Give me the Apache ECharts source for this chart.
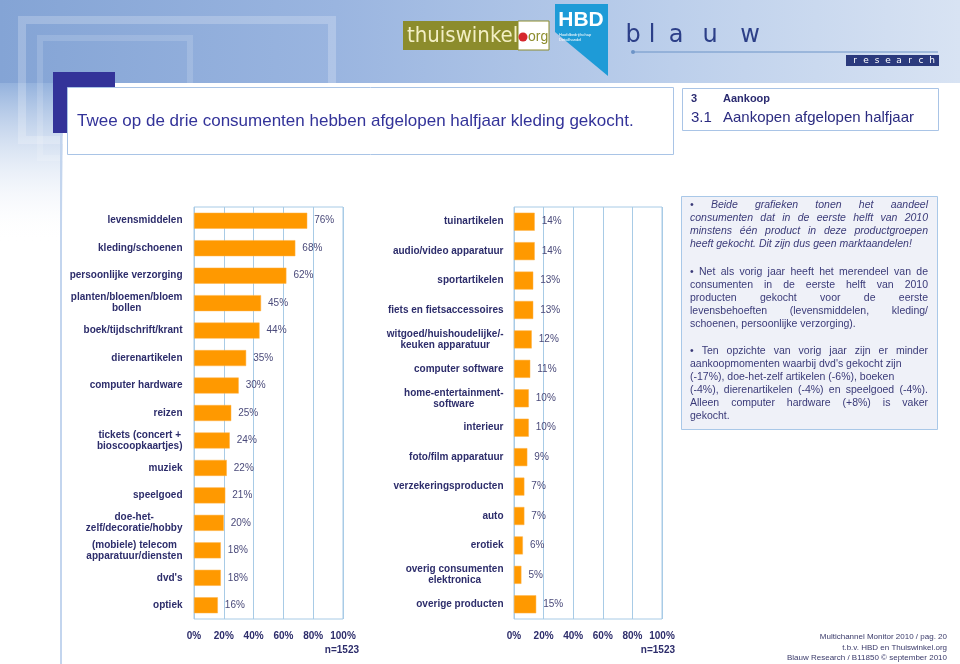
<!DOCTYPE html>
<html>
<head>
<meta charset="utf-8">
<script src="https://cdn.jsdelivr.net/npm/echarts@6/dist/echarts.min.js"></script>
<style>html,body{margin:0;padding:0;background:#fff}#c{width:960px;height:664px}</style>
</head>
<body>
<div id="c"></div>
<script>
// ---- data ----
const leftCategories = ['levensmiddelen','kleding/schoenen','persoonlijke verzorging','planten/bloemen/bloem\nbollen','boek/tijdschrift/krant','dierenartikelen','computer hardware','reizen','tickets (concert +\nbioscoopkaartjes)','muziek','speelgoed','doe-het-\nzelf/decoratie/hobby','(mobiele) telecom\napparatuur/diensten',"dvd's",'optiek'];
const leftValues = [76,68,62,45,44,35,30,25,24,22,21,20,18,18,16];
const rightCategories = ['tuinartikelen','audio/video apparatuur','sportartikelen','fiets en fietsaccessoires','witgoed/huishoudelijke/-\nkeuken apparatuur','computer software','home-entertainment-\nsoftware','interieur','foto/film apparatuur','verzekeringsproducten','auto','erotiek','overig consumenten\nelektronica','overige producten'];
const rightValues = [14,14,13,13,12,11,10,10,9,7,7,6,5,15];
const xTicks = [0,20,40,60,80,100];
const sampleLabel = 'n=1523';
const titleText = 'Twee op de drie consumenten hebben afgelopen halfjaar kleding gekocht.';
const noteParagraphs = [
  {italic:true, lines:[['• Beide grafieken tonen het aandeel',1],['consumenten dat in de eerste helft van 2010',1],['minstens één product in deze productgroepen',1],['heeft gekocht. Dit zijn dus geen marktaandelen!',0]]},
  {italic:false, lines:[['• Net als vorig jaar heeft het merendeel van de',1],['consumenten in de eerste helft van 2010',1],['producten gekocht voor de eerste',1],['levensbehoeften (levensmiddelen, kleding/',1],['schoenen, persoonlijke verzorging).',0]]},
  {italic:false, lines:[['• Ten opzichte van vorig jaar zijn er minder',1],["aankoopmomenten waarbij dvd's gekocht zijn",0],['(-17%), doe-het-zelf artikelen (-6%), boeken',0],['(-4%), dierenartikelen (-4%) en speelgoed (-4%).',1],['Alleen computer hardware (+8%) is vaker',1],['gekocht.',0]]}
];
const footerLines = ['Multichannel Monitor 2010 / pag. 20','t.b.v. HBD en Thuiswinkel.org','Blauw Research / B11850 © september 2010'];

// ---- styling ----
const FF = '"Liberation Sans", Arial, sans-serif';
const NAVY = '#2d2d6b';
const VAL = '#4a4a7a';
const GRID = '#a8cbe6';
const ORANGE = '#ff9900';

const cv = document.createElement('canvas').getContext('2d');
function tw(t, font){ cv.font = font; return cv.measureText(t).width; }

function buildLabel(cats, key){
  const rich = {};
  const labFont = 'bold 10px ' + FF;
  cats.forEach((c,i)=>{
    const ls = c.split('\n');
    const w = Math.max(...ls.map(l=>tw(l,labFont))) + 1;
    rich[key+i] = {width:w, align:'center', fontWeight:'bold', fontSize:10, fontFamily:FF, color:NAVY, lineHeight:11};
  });
  return {
    rich,
    formatter: (v, i)=>{
      const idx = cats.indexOf(v);
      return v.split('\n').map(l=>'{'+key+idx+'|'+l+'}').join('\n');
    }
  };
}
const lLab = buildLabel(leftCategories,'l');
const rLab = buildLabel(rightCategories,'r');

function xAxisCfg(gi){
  return {
    gridIndex: gi, type:'value', min:0, max:100, interval:20,
    axisLine:{show:false}, axisTick:{show:false},
    splitLine:{show:true, lineStyle:{color:GRID, width:1}},
    axisLabel:{formatter:'{value}%', color:NAVY, fontWeight:'bold', fontSize:10, fontFamily:FF, margin:12,
      customValues: xTicks}
  };
}
function yAxisCfg(gi, cats, lab, margin){
  return {
    gridIndex: gi, type:'category', data:cats, inverse:true,
    axisLine:{show:false}, axisTick:{show:false}, splitLine:{show:false},
    axisLabel:{margin:margin, align:'right', formatter:lab.formatter, rich:lab.rich, color:NAVY, fontWeight:'bold', fontSize:10, fontFamily:FF, interval:0}
  };
}
function barSeries(gi, vals, bw){
  return {
    type:'bar', xAxisIndex:gi, yAxisIndex:gi, data:vals, barWidth:bw,
    itemStyle:{color:ORANGE, borderColor:'#ffb347', borderWidth:0.5},
    label:{show:true, position:'right', distance:7, formatter:'{c}%', color:VAL, fontSize:10, fontFamily:FF},
    silent:true, animation:false
  };
}

// ---- decorative graphics ----
const g = [];
// header background
g.push({type:'rect', z:-20, shape:{x:0,y:0,width:960,height:83},
  style:{fill:new echarts.graphic.LinearGradient(0,0,1,0,[{offset:0,color:'#84a4d5'},{offset:0.35,color:'#9ab5e0'},{offset:0.7,color:'#bccfeb'},{offset:1,color:'#d8e3f3'}])}});
g.push({type:'rect', z:-19, shape:{x:0,y:83,width:63,height:160},
  style:{fill:new echarts.graphic.LinearGradient(0,0,0,1,[{offset:0,color:'#94b2dd'},{offset:1,color:'rgba(255,255,255,0)'}])}});
g.push({type:'rect', z:-18, shape:{x:22,y:20,width:310,height:120}, style:{fill:'none', stroke:'rgba(255,255,255,0.22)', lineWidth:8}});
g.push({type:'rect', z:-18, shape:{x:40,y:38,width:150,height:120}, style:{fill:'none', stroke:'rgba(255,255,255,0.15)', lineWidth:6}});
g.push({type:'line', z:-17, shape:{x1:61,y1:83,x2:61,y2:664}, style:{stroke:'#c3d5ee', lineWidth:2}});
// thuiswinkel logo
g.push({type:'rect', z:-10, shape:{x:403,y:21,width:117,height:29}, style:{fill:'#8c8c2c'}});
g.push({type:'text', z:-9, style:{x:407,y:36,text:'thuiswinkel',font:'22px "DejaVu Sans Condensed", '+FF,fill:'#f3efc4',textVerticalAlign:'middle',verticalAlign:'middle'}});
g.push({type:'rect', z:-10, shape:{x:518,y:21,width:31,height:29}, style:{fill:'#ffffff', stroke:'#8c8c2c', lineWidth:1}});
g.push({type:'circle', z:-9, shape:{cx:523,cy:37,r:4.5}, style:{fill:'#d6262c'}});
g.push({type:'text', z:-9, style:{x:528,y:37,text:'org',font:'14px '+FF,fill:'#8c8c2c',textVerticalAlign:'middle',verticalAlign:'middle'}});
// HBD
g.push({type:'polygon', z:-10, shape:{points:[[555,4],[608,4],[608,76],[555,32]]}, style:{fill:'#1e9bd7'}});
g.push({type:'text', z:-9, style:{x:581,y:20,text:'HBD',font:'bold 21px '+FF,fill:'#ffffff',textAlign:'center',align:'center',textVerticalAlign:'middle',verticalAlign:'middle'}});
g.push({type:'text', z:-9, style:{x:559,y:37,text:'Hoofdbedrijfschap\nDetailhandel',font:'4px '+FF,fill:'#ffffff',lineHeight:5,textVerticalAlign:'middle',verticalAlign:'middle'}});
// blauw
[['b',633],['l',652],['a',676],['u',710],['w',750]].forEach(([ch,x])=>{
  g.push({type:'text', z:-9, style:{x:x,y:36,text:ch,font:'24px "DejaVu Sans", '+FF,fill:'#2c3f88',textAlign:'center',align:'center',textVerticalAlign:'middle',verticalAlign:'middle'}});
});
g.push({type:'line', z:-9, shape:{x1:632,y1:52,x2:938,y2:52}, style:{stroke:'#6d94c7', lineWidth:1}});
g.push({type:'circle', z:-9, shape:{cx:633,cy:52,r:2}, style:{fill:'#6d94c7'}});
g.push({type:'rect', z:-9, shape:{x:846,y:55,width:93,height:11}, style:{fill:'#2b3a7d'}});
'research'.split('').forEach((ch,i)=>{
  g.push({type:'text', z:-8, style:{x:855+i*11,y:61,text:ch,font:'9px "DejaVu Sans", '+FF,fill:'#ffffff',textAlign:'center',align:'center',textVerticalAlign:'middle',verticalAlign:'middle'}});
});
// title box
g.push({type:'rect', z:-8, shape:{x:53,y:72,width:62,height:61}, style:{fill:'#333399'}});
g.push({type:'rect', z:-7, shape:{x:67.5,y:87.5,width:606,height:67}, style:{fill:'#ffffff', stroke:'#a9c4e6', lineWidth:1}});
g.push({type:'text', z:-6, style:{x:77,y:121,text:titleText,font:'17px '+FF,fill:'#333399',textVerticalAlign:'middle',verticalAlign:'middle'}});
// chapter box
g.push({type:'rect', z:-7, shape:{x:682.5,y:88.5,width:256,height:42}, style:{fill:'#ffffff', stroke:'#a9c4e6', lineWidth:1}});
g.push({type:'text', z:-6, style:{x:691,y:99,text:'3',font:'bold 11px '+FF,fill:'#2b2b70',textVerticalAlign:'middle',verticalAlign:'middle'}});
g.push({type:'text', z:-6, style:{x:723,y:99,text:'Aankoop',font:'bold 11px '+FF,fill:'#2b2b70',textVerticalAlign:'middle',verticalAlign:'middle'}});
g.push({type:'text', z:-6, style:{x:691,y:118,text:'3.1',font:'15px '+FF,fill:'#2b2b80',textVerticalAlign:'middle',verticalAlign:'middle'}});
g.push({type:'text', z:-6, style:{x:723,y:118,text:'Aankopen afgelopen halfjaar',font:'15px '+FF,fill:'#2b2b80',textVerticalAlign:'middle',verticalAlign:'middle'}});
// note box
g.push({type:'rect', z:-7, shape:{x:681.5,y:196.5,width:256,height:233}, style:{fill:'#eff1f8', stroke:'#a9c8e8', lineWidth:1}});
const NX = 690, NW = 238, NLH = 13;
const paraStarts = [205, 272, 351];
noteParagraphs.forEach((p,pi)=>{
  const font = (p.italic?'italic ':'') + '10.5px ' + FF;
  p.lines.forEach(([txt, just], li)=>{
    const y = paraStarts[pi] + li*NLH;
    if (!just){
      g.push({type:'text', z:-6, style:{x:NX,y:y,text:txt,font:font,fill:'#3a3a78',textVerticalAlign:'middle',verticalAlign:'middle'}});
    } else {
      const words = txt.split(' ');
      const ws = words.map(w=>tw(w,font));
      const tot = ws.reduce((a,b)=>a+b,0);
      const gap = (NW - tot)/(words.length-1);
      let x = NX;
      words.forEach((w,wi)=>{
        g.push({type:'text', z:-6, style:{x:x,y:y,text:w,font:font,fill:'#3a3a78',textVerticalAlign:'middle',verticalAlign:'middle'}});
        x += ws[wi] + gap;
      });
    }
  });
});
// sample size labels
g.push({type:'text', z:5, style:{x:359,y:650,text:sampleLabel,font:'bold 10px '+FF,fill:NAVY,textAlign:'right',align:'right',textVerticalAlign:'middle',verticalAlign:'middle'}});
g.push({type:'text', z:5, style:{x:675,y:650,text:sampleLabel,font:'bold 10px '+FF,fill:NAVY,textAlign:'right',align:'right',textVerticalAlign:'middle',verticalAlign:'middle'}});
// footer
footerLines.forEach((t,i)=>{
  g.push({type:'text', z:5, style:{x:947,y:637+i*10.5,text:t,font:'8px '+FF,fill:'#3a3a6a',textAlign:'right',align:'right',textVerticalAlign:'middle',verticalAlign:'middle'}});
});

const chart = echarts.init(document.getElementById('c'), null, {renderer:'canvas'});
chart.setOption({
  animation:false,
  backgroundColor:'#ffffff',
  textStyle:{fontFamily:FF},
  grid:[
    {left:194, right:960-343, top:207, bottom:664-619, show:true, borderColor:GRID, borderWidth:1, backgroundColor:'transparent', containLabel:false},
    {left:514, right:960-662, top:207, bottom:664-619, show:true, borderColor:GRID, borderWidth:1, backgroundColor:'transparent', containLabel:false}
  ],
  xAxis:[xAxisCfg(0), xAxisCfg(1)],
  yAxis:[yAxisCfg(0,leftCategories,lLab,11), yAxisCfg(1,rightCategories,rLab,10)],
  series:[barSeries(0,leftValues,16), barSeries(1,rightValues,18)],
  graphic:{elements:g}
});
</script>
</body>
</html>
